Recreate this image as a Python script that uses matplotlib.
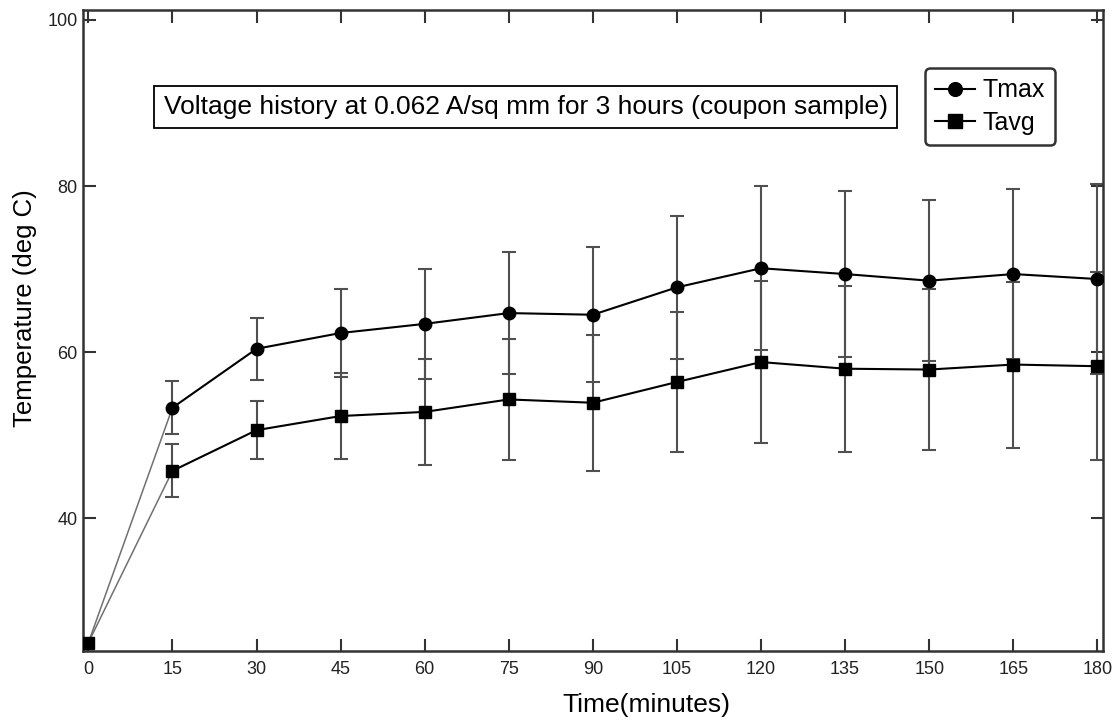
import matplotlib
matplotlib.use('Agg')
import matplotlib.pyplot as plt

# data
time_min = [0, 15, 30, 45, 60, 75, 90, 105, 120, 135, 150, 165, 180]
tmax = [25.0, 53.3, 60.4, 62.3, 63.4, 64.7, 64.5, 67.8, 70.1, 69.4, 68.6, 69.4, 68.8]
tmax_err = [0, 3.2, 3.7, 5.3, 6.6, 7.3, 8.1, 8.6, 9.9, 10.0, 9.7, 10.2, 11.4]
tavg = [25.0, 45.7, 50.6, 52.3, 52.8, 54.3, 53.9, 56.4, 58.8, 58.0, 57.9, 58.5, 58.3]
tavg_err = [0, 3.2, 3.5, 5.2, 6.4, 7.3, 8.2, 8.4, 9.8, 10.0, 9.7, 10.0, 11.3]
x_ticks = [0, 15, 30, 45, 60, 75, 90, 105, 120, 135, 150, 165, 180]
y_ticks = [40, 60, 80, 100]
title_text = 'Voltage history at 0.062 A/sq mm for 3 hours (coupon sample)'

plt.rcParams['font.family'] = ['Liberation Sans', 'DejaVu Sans']

fig = plt.figure(figsize=(11.13, 7.2), dpi=100)
ax = fig.add_axes([0.0746, 0.0958, 0.9164, 0.8903])

# error bars (grey) behind the lines
for y, e in [(tmax, tmax_err), (tavg, tavg_err)]:
    ax.errorbar(time_min[1:], y[1:], yerr=e[1:], fmt='none', ecolor='#505050',
                elinewidth=1.5, capsize=5, capthick=1.5, zorder=2)

# first segment from 0 is a thin grey line
ax.plot(time_min[:2], tmax[:2], color='#707070', lw=1.1, zorder=3)
ax.plot(time_min[:2], tavg[:2], color='#707070', lw=1.1, zorder=3)

ax.plot(time_min[1:], tmax[1:], color='black', lw=1.5, marker='o', ms=9,
        label='Tmax', zorder=4)
ax.plot(time_min[1:], tavg[1:], color='black', lw=1.5, marker='s', ms=9,
        label='Tavg', zorder=4)
ax.plot(time_min[:1], tavg[:1], color='black', marker='s', ms=9, ls='none', zorder=5)

ax.set_xlim(-0.95, 181)
ax.set_ylim(24, 101.2)
ax.set_xticks(x_ticks)
ax.set_yticks(y_ticks)

ax.tick_params(direction='in', top=True, right=True, width=1.5, length=9,
               color='#333333', labelsize=13, labelcolor='#222222')
ax.tick_params(axis='x', pad=7)
ax.tick_params(axis='y', pad=4)

for sp in ax.spines.values():
    sp.set_linewidth(1.8)
    sp.set_color('#333333')

ax.set_xlabel('Time(minutes)', fontsize=19)
ax.set_ylabel('Temperature (deg C)', fontsize=18.5)
ax.xaxis.set_label_coords(0.552, -0.066)
ax.yaxis.set_label_coords(-0.045, 0.535)

ax.text(0.434, 0.849, title_text, transform=ax.transAxes, fontsize=19,
        ha='center', va='center',
        bbox=dict(boxstyle='square,pad=0.35', fc='white', ec='black', lw=1.3))

leg = ax.legend(loc='upper right', bbox_to_anchor=(0.953, 0.909),
                prop={'size': 18}, handlelength=1.6, markerscale=1.1,
                handletextpad=0.3, borderpad=0.4, labelspacing=0.35,
                borderaxespad=0, fancybox=True, framealpha=1)
leg.get_frame().set_edgecolor('#333333')
leg.get_frame().set_linewidth(1.8)

plt.savefig('out.png', dpi=100)
